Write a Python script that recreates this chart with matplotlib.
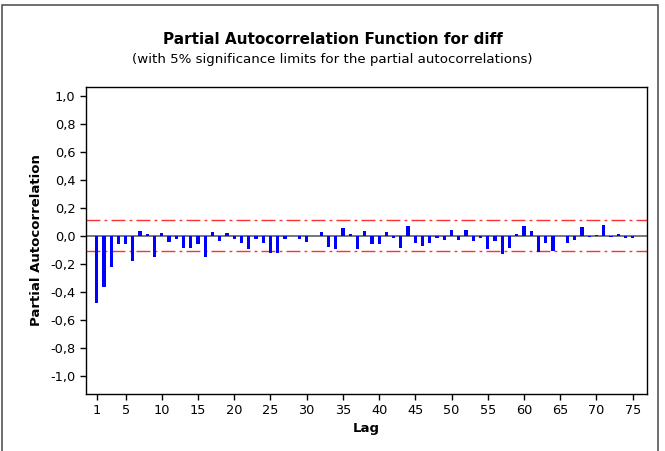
import matplotlib
matplotlib.use("Agg")
from matplotlib import pyplot as plt
from matplotlib.patches import Rectangle
import numpy as np

# partial autocorrelations, lags 1..75
lags = list(range(1, 76))
pacf = [-0.483, -0.364, -0.221, -0.062, -0.062, -0.181, 0.033, 0.010, -0.150, 0.020,
        -0.048, -0.020, -0.090, -0.090, -0.062, -0.150, 0.024, -0.038, 0.019, -0.026,
        -0.055, -0.098, -0.020, -0.055, -0.120, -0.120, -0.026, -0.005, -0.026, -0.048,
        -0.003, 0.029, -0.079, -0.098, 0.057, 0.014, -0.098, 0.033, -0.062, -0.062,
        0.024, -0.014, -0.090, 0.069, -0.055, -0.071, -0.055, -0.019, -0.031, 0.043,
        -0.031, 0.043, -0.038, -0.014, -0.098, -0.038, -0.131, -0.085, 0.014, 0.069,
        0.033, -0.119, -0.050, -0.107, -0.005, -0.055, -0.029, 0.060, -0.010, 0.007,
        0.076, -0.010, 0.012, -0.017, -0.017]
sig_limit = 0.112

xticks = [1, 5, 10, 15, 20, 25, 30, 35, 40, 45, 50, 55, 60, 65, 70, 75]
yticks = [-1.0, -0.8, -0.6, -0.4, -0.2, 0.0, 0.2, 0.4, 0.6, 0.8, 1.0]
ytick_labels = ["{:.1f}".format(v).replace(".", ",") for v in yticks]

fig = plt.figure(figsize=(6.65, 4.51), dpi=100)
ax = fig.add_axes([86/665, 1 - 394/451, 561/665, 307/451])

ax.bar(lags, pacf, width=0.45, color="#0000ff", zorder=3)
ax.axhline(0, color="#606060", lw=1.2, zorder=2)
ax.axhline(sig_limit, color="#ff3030", lw=1.0, dashes=(10, 3, 2, 3), zorder=1)
ax.axhline(-sig_limit, color="#ff3030", lw=1.0, dashes=(10, 3, 2, 3), zorder=1)

ax.set_xlim(-0.47, 76.98)
ax.set_ylim(-1.13, 1.062)
ax.set_xticks(xticks)
ax.set_xticklabels([str(t) for t in xticks])
ax.set_yticks(yticks)
ax.set_yticklabels(ytick_labels)
ax.tick_params(direction="out", length=4, width=1, labelsize=9.3, colors="black")
for side in ["left", "bottom", "right", "top"]:
  ax.spines[side].set_linewidth(1.0)

ax.set_xlabel("Lag", fontsize=9.5, fontweight="bold", labelpad=3)
ax.set_ylabel("Partial Autocorrelation", fontsize=9.5, fontweight="bold", labelpad=5)

fig.text(0.5, 1 - 40/451, "Partial Autocorrelation Function for diff",
         ha="center", va="center", fontsize=11, fontweight="bold")
fig.text(0.5, 1 - 60/451, "(with 5% significance limits for the partial autocorrelations)",
         ha="center", va="center", fontsize=9.6)

# outer frame of the graph window
fig.patches.append(Rectangle((2/665, -0.05), 656/665, 1.04, transform=fig.transFigure,
                             fill=False, edgecolor="#555555", lw=1.2))

fig.savefig("out.png", dpi=100)
